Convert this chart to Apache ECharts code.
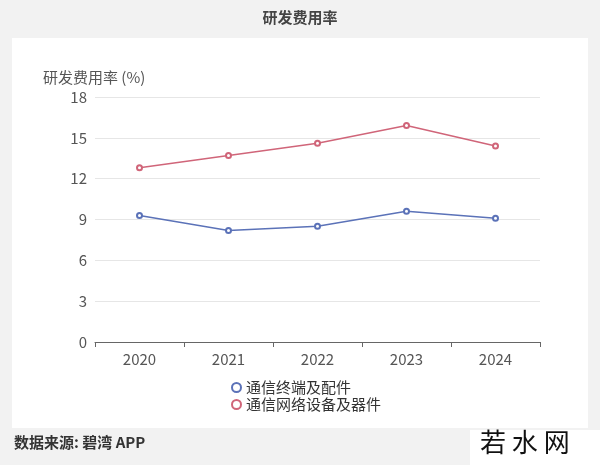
<!DOCTYPE html>
<html style="height: 100%">
<head>
<meta charset="utf-8">
<script src="https://cdn.jsdelivr.net/npm/echarts@6/dist/echarts.min.js"></script>
</head>
<body style="height: 100%; margin: 0; background: #f2f2f2">
<div id="container" style="width: 600px; height: 465px"></div>
<script type="text/javascript">
var years = ['2020', '2021', '2022', '2023', '2024'];
var terminal = [9.3, 8.2, 8.5, 9.6, 9.1];
var network = [12.8, 13.7, 14.6, 15.9, 14.4];
var yTicks = [0, 3, 6, 9, 12, 15, 18];

var font = '"Noto Sans CJK SC", "Noto Sans", sans-serif';
var myChart = echarts.init(document.getElementById('container'));
var option = {
    backgroundColor: '#f2f2f2',
    textStyle: { fontFamily: font },
    title: {
        text: '研发费用率', left: 'center', top: 5,
        textStyle: { fontSize: 15, fontWeight: 'bold', color: '#444', fontFamily: font }
    },
    graphic: [
        { type: 'rect', shape: { x: 12, y: 38, width: 576, height: 390 }, style: { fill: '#fff' }, z: -1 },
        { type: 'text', left: 14, top: 435, style: { text: '数据来源: 碧湾 APP', font: 'bold 15px ' + font, fill: '#333' } },
        { type: 'rect', shape: { x: 470, y: 430, width: 130, height: 35 }, style: { fill: '#fff' } },
        { type: 'text', left: 480, top: 429, style: { text: '若 水 网', font: '26px ' + font, fill: '#111' } }
    ],
    grid: { left: 95, right: 60, top: 97, bottom: 123 },
    legend: {
        orient: 'vertical', left: 226, top: 375, itemGap: 2,
        icon: 'emptyCircle', itemWidth: 9, itemHeight: 9,
        textStyle: { fontSize: 15, color: '#333' },
        data: ['通信终端及配件', '通信网络设备及器件']
    },
    xAxis: {
        type: 'category', data: years, boundaryGap: true,
        axisLine: { lineStyle: { color: '#666' } },
        axisTick: { show: true, lineStyle: { color: '#666' } },
        axisLabel: { fontSize: 15, color: '#555', margin: 10 }
    },
    yAxis: {
        type: 'value', min: yTicks[0], max: yTicks[yTicks.length - 1], interval: 3,
        name: '研发费用率 (%)', nameLocation: 'end', nameGap: 12,
        nameTextStyle: { fontSize: 15, color: '#555', align: 'left', padding: [0, 0, 0, -52] },
        axisLine: { show: false },
        axisLabel: { fontSize: 15, color: '#555' },
        splitLine: { lineStyle: { color: '#e6e6e6' } }
    },
    series: [
        { name: '通信终端及配件', type: 'line', data: terminal, symbol: 'emptyCircle', symbolSize: 5,
          itemStyle: { color: '#5b72b8' }, lineStyle: { width: 1.5 } },
        { name: '通信网络设备及器件', type: 'line', data: network, symbol: 'emptyCircle', symbolSize: 5,
          itemStyle: { color: '#d06579' }, lineStyle: { width: 1.5 } }
    ]
};
myChart.setOption(option);
</script>
</body>
</html>
